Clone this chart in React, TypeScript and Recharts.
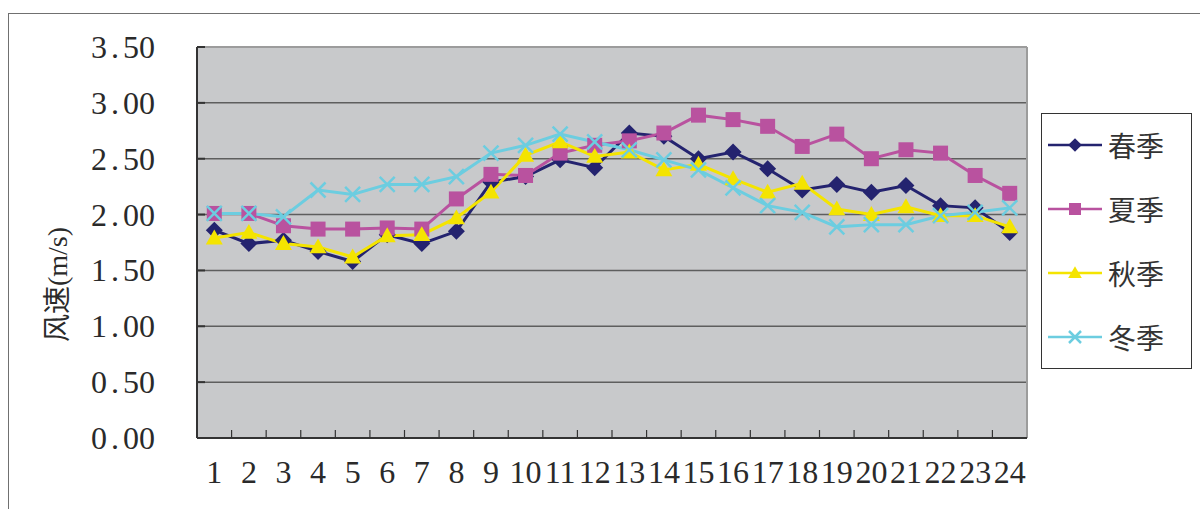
import React from 'react';
import {
  LineChart,
  Line,
  XAxis,
  YAxis,
  CartesianGrid,
  ReferenceLine,
} from 'recharts';

// 时刻 1–24
const hours = [1, 2, 3, 4, 5, 6, 7, 8, 9, 10, 11, 12, 13, 14, 15, 16, 17, 18, 19, 20, 21, 22, 23, 24];

// 各季节逐时平均风速 (m/s)
const spring = [1.86, 1.74, 1.77, 1.67, 1.58, 1.82, 1.74, 1.85, 2.29, 2.34, 2.49, 2.42, 2.73, 2.7, 2.5, 2.56, 2.41, 2.22, 2.27, 2.2, 2.26, 2.08, 2.06, 1.84];
const summer = [2.01, 2.01, 1.9, 1.87, 1.87, 1.88, 1.87, 2.14, 2.36, 2.35, 2.55, 2.62, 2.66, 2.73, 2.89, 2.85, 2.79, 2.61, 2.72, 2.5, 2.58, 2.55, 2.35, 2.19];
const autumn = [1.79, 1.84, 1.74, 1.71, 1.62, 1.81, 1.82, 1.97, 2.2, 2.53, 2.65, 2.52, 2.56, 2.4, 2.45, 2.32, 2.2, 2.28, 2.05, 2.0, 2.07, 1.99, 1.99, 1.89];
const winter = [2.01, 2.01, 1.98, 2.22, 2.18, 2.27, 2.27, 2.34, 2.55, 2.62, 2.72, 2.65, 2.58, 2.49, 2.4, 2.24, 2.08, 2.02, 1.89, 1.91, 1.91, 1.99, 2.02, 2.06];

const yTicks = [0, 0.5, 1, 1.5, 2, 2.5, 3, 3.5];

const SERIF = "'Liberation Serif', 'DejaVu Serif', 'Noto Sans CJK SC', serif";
const CJK = "'Noto Sans CJK SC', 'Liberation Serif', sans-serif";
const TEXT = '#2a2a2a';
const Y_GAP = 42;

const series = [
  { key: 'spring', name: '春季', color: '#24236f', shape: 'diamond' },
  { key: 'summer', name: '夏季', color: '#b9529f', shape: 'square' },
  { key: 'autumn', name: '秋季', color: '#f4e400', shape: 'triangle' },
  { key: 'winter', name: '冬季', color: '#6ccde0', shape: 'cross' },
];

const rows = hours.map((h, i) => ({
  hour: h,
  spring: spring[i],
  summer: summer[i],
  autumn: autumn[i],
  winter: winter[i],
}));

// ticks between hours are drawn as short inward marks
const xTicks = [...hours, ...hours.slice(0, -1).map((h) => h + 0.5)];

function Marker({ cx, cy, shape, color, s = 1 }: any) {
  if (cx == null || cy == null) return null;
  if (shape === 'diamond') {
    const r = 8.5 * s;
    return <polygon points={`${cx},${cy - r} ${cx + r},${cy} ${cx},${cy + r} ${cx - r},${cy}`} fill={color} />;
  }
  if (shape === 'square') {
    const r = 7.5 * s;
    return <rect x={cx - r} y={cy - r} width={2 * r} height={2 * r} fill={color} />;
  }
  if (shape === 'triangle') {
    const r = 8.5 * s;
    return <polygon points={`${cx},${cy - r} ${cx + r},${cy + r * 0.75} ${cx - r},${cy + r * 0.75}`} fill={color} />;
  }
  const r = 7.5 * s;
  return (
    <path
      d={`M${cx - r},${cy - r}L${cx + r},${cy + r}M${cx + r},${cy - r}L${cx - r},${cy + r}`}
      stroke={color}
      strokeWidth={2.5}
      fill="none"
    />
  );
}

function makeDot(shape: string, color: string) {
  return (p: any) => <Marker key={`d-${p.index}`} cx={p.cx} cy={p.cy} shape={shape} color={color} />;
}

function XTick({ x, y, payload }: any) {
  const v = payload.value;
  if (!Number.isInteger(v)) {
    return <line x1={x} x2={x} y1={y} y2={y - 8} stroke="#333" strokeWidth={1.2} />;
  }
  return (
    <text x={x} y={y + 45} textAnchor="middle" fontSize={32} fontFamily={SERIF} fill={TEXT}>
      {v}
    </text>
  );
}

function YTick({ x, y, payload }: any) {
  const [a, b] = Number(payload.value).toFixed(2).split('.');
  return (
    <g>
      <line x1={x + Y_GAP} x2={x + Y_GAP + 8} y1={y} y2={y} stroke="#333" strokeWidth={2} />
      <text x={x} y={y} textAnchor="end" dominantBaseline="central" fontSize={32} fontFamily={SERIF} fill={TEXT}>
        {a}
        <tspan dx={4}>.</tspan>
        <tspan dx={4}>{b}</tspan>
      </text>
    </g>
  );
}

function YLabel({ viewBox }: any) {
  const cx = viewBox.x + 57;
  const cy = viewBox.y + viewBox.height / 2 + 42;
  return (
    <text
      x={cx}
      y={cy}
      transform={`rotate(-90 ${cx} ${cy})`}
      textAnchor="middle"
      dominantBaseline="central"
      fontSize={28}
      fontFamily={SERIF}
      fill={TEXT}
    >
      风速(m/s)
    </text>
  );
}

function SeasonLegend() {
  return (
    <div
      style={{
        position: 'absolute',
        left: 1041,
        top: 113,
        width: 151,
        height: 256,
        boxSizing: 'border-box',
        border: '1.5px solid #333',
        background: '#fff',
      }}
    >
      {series.map((s, i) => (
        <div
          key={s.key}
          style={{
            position: 'absolute',
            left: 6,
            top: 31 + i * 64 - 18,
            height: 36,
            display: 'flex',
            alignItems: 'center',
          }}
        >
          <svg width={54} height={24}>
            <line x1={0} x2={54} y1={12} y2={12} stroke={s.color} strokeWidth={2.5} />
            <Marker cx={27} cy={12} shape={s.shape} color={s.color} s={0.8} />
          </svg>
          <span style={{ marginLeft: 6, fontSize: 28, fontFamily: CJK, color: '#333', lineHeight: '36px' }}>
            {s.name}
          </span>
        </div>
      ))}
    </div>
  );
}

export default function App() {
  return (
    <div
      style={{
        position: 'absolute',
        left: 0,
        top: 0,
        width: 1200,
        height: 509,
        overflow: 'hidden',
        background: '#fff',
      }}
    >
      <div
        style={{
          position: 'absolute',
          left: 8,
          top: 13,
          width: 1260,
          height: 600,
          border: '1.5px solid #707070',
        }}
      />
      <div style={{ position: 'absolute', left: 0, top: 0 }}>
        <LineChart width={1200} height={509} data={rows} margin={{ top: 47, right: 173, bottom: 0, left: 0 }}>
          <CartesianGrid vertical={false} fill="#c8c9cb" stroke="#5e5e5e" strokeWidth={1.5} />
          <XAxis
            dataKey="hour"
            type="number"
            domain={[0.5, 24.5]}
            ticks={xTicks}
            interval={0}
            height={71}
            tickSize={0}
            tickMargin={0}
            tickLine={false}
            axisLine={{ stroke: '#333', strokeWidth: 2 }}
            tick={<XTick />}
          />
          <YAxis
            domain={[0, 3.5]}
            ticks={yTicks}
            interval={0}
            width={197}
            tickSize={0}
            tickMargin={Y_GAP}
            tickLine={false}
            axisLine={{ stroke: '#333', strokeWidth: 2 }}
            tick={<YTick />}
            label={<YLabel />}
          />
          <ReferenceLine y={3.5} stroke="#9c9c9c" strokeWidth={2} />
          <ReferenceLine x={24.5} stroke="#9c9c9c" strokeWidth={2} />
          {series.map((s) => (
            <Line
              key={s.key}
              dataKey={s.key}
              name={s.name}
              type="linear"
              stroke={s.color}
              strokeWidth={3}
              dot={makeDot(s.shape, s.color)}
              activeDot={false}
              isAnimationActive={false}
            />
          ))}
        </LineChart>
      </div>
      <SeasonLegend />
    </div>
  );
}
